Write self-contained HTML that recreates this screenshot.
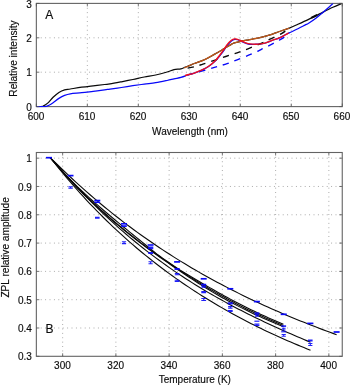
<!DOCTYPE html>
<html><head><meta charset="utf-8"><title>fig</title>
<style>
html,body{margin:0;padding:0;background:#fff;}
body{width:350px;height:385px;overflow:hidden;}
svg{display:block;will-change:transform;}
text{font-family:"Liberation Sans",sans-serif;font-size:10px;fill:#0c0c0c;stroke:#0c0c0c;stroke-width:0.15;}
.ax{stroke:#636363;stroke-width:1.1;fill:none;}
.grid{stroke:#939393;stroke-width:0.85;stroke-dasharray:0.9 3.5;fill:none;}
.tk{stroke:#555;stroke-width:0.8;fill:none;}
.c{fill:none;stroke-linejoin:round;stroke-linecap:butt;}
</style></head><body>
<svg width="350" height="385" viewBox="0 0 350 385">
<rect x="0" y="0" width="350" height="385" fill="#ffffff"/>

<g>
<line class="grid" x1="87.33" y1="3.40" x2="87.33" y2="106.60"/>
<line class="grid" x1="138.32" y1="3.40" x2="138.32" y2="106.60"/>
<line class="grid" x1="189.30" y1="3.40" x2="189.30" y2="106.60"/>
<line class="grid" x1="240.28" y1="3.40" x2="240.28" y2="106.60"/>
<line class="grid" x1="291.27" y1="3.40" x2="291.27" y2="106.60"/>
<line class="grid" x1="36.35" y1="72.20" x2="342.25" y2="72.20"/>
<line class="grid" x1="36.35" y1="37.80" x2="342.25" y2="37.80"/>
<clipPath id="ca"><rect x="36.35" y="2.90" width="305.90" height="104.40"/></clipPath>
<rect class="ax" x="36.35" y="3.40" width="305.90" height="103.20"/>
<g clip-path="url(#ca)">
<path class="c" d="M36.50 106.60 C37.25 106.58 39.93 106.57 41.00 106.50 C42.07 106.43 41.83 106.72 42.90 106.20 C43.97 105.68 45.70 104.88 47.40 103.40 C49.10 101.92 51.18 99.12 53.10 97.30 C55.02 95.48 56.98 93.73 58.90 92.50 C60.82 91.27 62.70 90.48 64.60 89.90 C66.50 89.32 67.45 89.45 70.30 89.00 C73.15 88.55 77.90 87.73 81.70 87.20 C85.50 86.67 89.28 86.25 93.10 85.80 C96.92 85.35 101.78 84.82 104.60 84.50 C107.42 84.18 107.20 84.35 110.00 83.90 C112.80 83.45 117.58 82.53 121.40 81.80 C125.22 81.07 129.08 80.30 132.90 79.50 C136.72 78.70 140.50 77.75 144.30 77.00 C148.10 76.25 151.90 75.83 155.70 75.00 C159.50 74.17 164.05 72.90 167.10 72.00 C170.15 71.10 171.70 70.13 174.00 69.60 C176.30 69.07 179.00 69.23 180.90 68.80 C182.80 68.37 183.88 67.57 185.40 67.00 C186.92 66.43 188.52 65.98 190.00 65.40 C191.48 64.82 191.92 64.43 194.30 63.50 C196.68 62.57 200.97 61.32 204.30 59.80 C207.63 58.28 211.20 56.13 214.30 54.40 C217.40 52.67 220.28 50.95 222.90 49.40 C225.52 47.85 228.10 46.18 230.00 45.10 C231.90 44.02 232.40 43.55 234.30 42.90 C236.20 42.25 239.02 41.72 241.40 41.20 C243.78 40.68 246.22 40.25 248.60 39.80 C250.98 39.35 253.32 39.00 255.70 38.50 C258.08 38.00 260.52 37.40 262.90 36.80 C265.28 36.20 267.75 35.60 270.00 34.90 C272.25 34.20 274.13 33.42 276.40 32.60 C278.67 31.78 281.45 30.75 283.60 30.00 C285.75 29.25 286.92 29.05 289.30 28.10 C291.68 27.15 294.68 25.75 297.90 24.30 C301.12 22.85 305.60 20.82 308.60 19.40 C311.60 17.98 313.48 17.02 315.90 15.80 C318.32 14.58 320.27 13.52 323.10 12.10 C325.93 10.68 329.85 8.72 332.90 7.30 C335.95 5.88 339.98 4.22 341.40 3.60" stroke="#0a0a0a" stroke-width="1.25"/>
<path class="c" d="M311.2 17.9 L317.2 15.0" stroke="#0a0a0a" stroke-width="2.1"/>
<path class="c" d="M36.50 106.60 C37.75 106.60 42.37 106.63 44.00 106.60 C45.63 106.57 45.47 106.62 46.30 106.40 C47.13 106.18 47.87 105.92 49.00 105.30 C50.13 104.68 51.45 103.85 53.10 102.70 C54.75 101.55 56.98 99.62 58.90 98.40 C60.82 97.18 62.70 96.17 64.60 95.40 C66.50 94.63 67.45 94.25 70.30 93.80 C73.15 93.35 77.90 93.12 81.70 92.70 C85.50 92.28 89.28 91.77 93.10 91.30 C96.92 90.83 101.78 90.27 104.60 89.90 C107.42 89.53 107.20 89.50 110.00 89.10 C112.80 88.70 117.58 88.07 121.40 87.50 C125.22 86.93 129.08 86.27 132.90 85.70 C136.72 85.13 140.50 84.60 144.30 84.10 C148.10 83.60 151.90 83.30 155.70 82.70 C159.50 82.10 164.05 81.13 167.10 80.50 C170.15 79.87 171.70 79.42 174.00 78.90 C176.30 78.38 179.00 77.90 180.90 77.40 C182.80 76.90 184.37 76.30 185.40 75.90 C186.43 75.50 185.62 75.47 187.10 75.00 C188.58 74.53 191.92 73.90 194.30 73.10 C196.68 72.30 199.02 71.32 201.40 70.20 C203.78 69.08 206.22 68.00 208.60 66.40 C210.98 64.80 213.32 63.03 215.70 60.60 C218.08 58.17 221.00 54.30 222.90 51.80 C224.80 49.30 225.68 47.40 227.10 45.60 C228.52 43.80 230.12 42.05 231.40 41.00 C232.68 39.95 233.70 39.50 234.80 39.30 C235.90 39.10 236.90 39.45 238.00 39.80 C239.10 40.15 240.12 40.83 241.40 41.40 C242.68 41.97 244.27 42.72 245.70 43.20 C247.13 43.68 248.33 44.13 250.00 44.30 C251.67 44.47 253.80 44.27 255.70 44.20 C257.60 44.13 259.73 44.10 261.40 43.90 C263.07 43.70 263.92 43.57 265.70 43.00 C267.48 42.43 269.83 41.35 272.10 40.50 C274.37 39.65 277.15 38.82 279.30 37.90 C281.45 36.98 283.43 35.80 285.00 35.00 C286.57 34.20 286.55 34.13 288.70 33.10 C290.85 32.07 295.18 30.13 297.90 28.80 C300.62 27.47 303.22 26.03 305.00 25.10 C306.78 24.17 306.78 24.35 308.60 23.20 C310.42 22.05 313.48 20.03 315.90 18.20 C318.32 16.37 321.08 13.90 323.10 12.20 C325.12 10.50 326.37 9.43 328.00 8.00 C329.63 6.57 332.08 4.33 332.90 3.60" stroke="#0808f8" stroke-width="1.25"/>
<path class="c" d="M184.50 68.60 C186.13 68.30 191.23 67.55 194.30 66.80 C197.37 66.05 199.57 65.18 202.90 64.10 C206.23 63.02 210.50 61.57 214.30 60.30 C218.10 59.03 221.90 57.75 225.70 56.50 C229.50 55.25 233.28 54.12 237.10 52.80 C240.92 51.48 244.30 50.32 248.60 48.60 C252.90 46.88 259.33 44.08 262.90 42.50 C266.47 40.92 266.90 40.58 270.00 39.10 C273.10 37.62 278.33 35.40 281.50 33.60 C284.67 31.80 287.75 29.18 289.00 28.30" stroke="#0a0a0a" stroke-width="1.35" stroke-dasharray="6.3 6" stroke-dashoffset="9.1"/>
<path class="c" d="M184.90 75.70 C186.93 75.13 193.15 73.40 197.10 72.30 C201.05 71.20 205.27 70.03 208.60 69.10 C211.93 68.17 214.02 67.62 217.10 66.70 C220.18 65.78 223.77 64.73 227.10 63.60 C230.43 62.47 233.52 61.30 237.10 59.90 C240.68 58.50 245.38 56.53 248.60 55.20 C251.82 53.87 254.27 52.88 256.40 51.90 C258.53 50.92 259.62 50.18 261.40 49.30 C263.18 48.42 265.18 47.55 267.10 46.60 C269.02 45.65 271.10 44.57 272.90 43.60 C274.70 42.63 276.12 41.80 277.90 40.80 C279.68 39.80 281.75 38.93 283.60 37.60 C285.45 36.27 288.10 33.60 289.00 32.80" stroke="#0808f8" stroke-width="1.35" stroke-dasharray="6.3 6" stroke-dashoffset="9.8"/>
<path class="c" d="M184.30 67.90 C185.25 67.48 188.33 66.13 190.00 65.40 C191.67 64.67 191.92 64.43 194.30 63.50 C196.68 62.57 200.97 61.32 204.30 59.80 C207.63 58.28 211.20 56.13 214.30 54.40 C217.40 52.67 220.28 50.95 222.90 49.40 C225.52 47.85 228.10 46.18 230.00 45.10 C231.90 44.02 232.40 43.55 234.30 42.90 C236.20 42.25 239.02 41.72 241.40 41.20 C243.78 40.68 246.22 40.25 248.60 39.80 C250.98 39.35 253.32 39.00 255.70 38.50 C258.08 38.00 260.52 37.40 262.90 36.80 C265.28 36.20 267.75 35.60 270.00 34.90 C272.25 34.20 274.13 33.42 276.40 32.60 C278.67 31.78 281.45 30.75 283.60 30.00 C285.75 29.25 288.35 28.42 289.30 28.10" stroke="#c0581a" stroke-width="1.3"/>
<path class="c" d="M184.90 75.60 C185.27 75.50 185.53 75.42 187.10 75.00 C188.67 74.58 191.92 73.90 194.30 73.10 C196.68 72.30 199.02 71.33 201.40 70.20 C203.78 69.07 206.22 67.97 208.60 66.30 C210.98 64.63 213.32 62.77 215.70 60.20 C218.08 57.63 221.00 53.50 222.90 50.90 C224.80 48.30 225.68 46.37 227.10 44.60 C228.52 42.83 230.17 41.25 231.40 40.30 C232.63 39.35 233.52 39.07 234.50 38.90 C235.48 38.73 236.15 38.95 237.30 39.30 C238.45 39.65 240.00 40.42 241.40 41.00 C242.80 41.58 244.27 42.32 245.70 42.80 C247.13 43.28 248.33 43.65 250.00 43.90 C251.67 44.15 253.80 44.30 255.70 44.30 C257.60 44.30 259.73 44.13 261.40 43.90 C263.07 43.67 263.92 43.48 265.70 42.90 C267.48 42.32 269.83 41.23 272.10 40.40 C274.37 39.57 277.15 38.80 279.30 37.90 C281.45 37.00 283.45 35.83 285.00 35.00 C286.55 34.17 288.00 33.25 288.60 32.90" stroke="#f0101c" stroke-width="1.4"/>
</g>
<line class="tk" x1="36.35" y1="106.60" x2="36.35" y2="103.60"/>
<line class="tk" x1="36.35" y1="3.40" x2="36.35" y2="6.40"/>
<text x="36.05" y="119.7" text-anchor="middle">600</text>
<line class="tk" x1="87.33" y1="106.60" x2="87.33" y2="103.60"/>
<line class="tk" x1="87.33" y1="3.40" x2="87.33" y2="6.40"/>
<text x="87.03" y="119.7" text-anchor="middle">610</text>
<line class="tk" x1="138.32" y1="106.60" x2="138.32" y2="103.60"/>
<line class="tk" x1="138.32" y1="3.40" x2="138.32" y2="6.40"/>
<text x="138.02" y="119.7" text-anchor="middle">620</text>
<line class="tk" x1="189.30" y1="106.60" x2="189.30" y2="103.60"/>
<line class="tk" x1="189.30" y1="3.40" x2="189.30" y2="6.40"/>
<text x="189.00" y="119.7" text-anchor="middle">630</text>
<line class="tk" x1="240.28" y1="106.60" x2="240.28" y2="103.60"/>
<line class="tk" x1="240.28" y1="3.40" x2="240.28" y2="6.40"/>
<text x="239.98" y="119.7" text-anchor="middle">640</text>
<line class="tk" x1="291.27" y1="106.60" x2="291.27" y2="103.60"/>
<line class="tk" x1="291.27" y1="3.40" x2="291.27" y2="6.40"/>
<text x="290.97" y="119.7" text-anchor="middle">650</text>
<line class="tk" x1="342.25" y1="106.60" x2="342.25" y2="103.60"/>
<line class="tk" x1="342.25" y1="3.40" x2="342.25" y2="6.40"/>
<text x="341.95" y="119.7" text-anchor="middle">660</text>
<line class="tk" x1="36.35" y1="106.60" x2="39.35" y2="106.60"/>
<line class="tk" x1="342.25" y1="106.60" x2="339.25" y2="106.60"/>
<text x="31.8" y="110.70" text-anchor="end">0</text>
<line class="tk" x1="36.35" y1="72.20" x2="39.35" y2="72.20"/>
<line class="tk" x1="342.25" y1="72.20" x2="339.25" y2="72.20"/>
<text x="31.8" y="76.30" text-anchor="end">1</text>
<line class="tk" x1="36.35" y1="37.80" x2="39.35" y2="37.80"/>
<line class="tk" x1="342.25" y1="37.80" x2="339.25" y2="37.80"/>
<text x="31.8" y="41.90" text-anchor="end">2</text>
<line class="tk" x1="36.35" y1="3.40" x2="39.35" y2="3.40"/>
<line class="tk" x1="342.25" y1="3.40" x2="339.25" y2="3.40"/>
<text x="31.8" y="7.50" text-anchor="end">3</text>
<text x="190.0" y="135.4" text-anchor="middle">Wavelength (nm)</text>
<text transform="translate(16.8 58.5) rotate(-90)" text-anchor="middle" style="font-size:10.1px">Relative intensity</text>
<text x="45.2" y="19.2" style="font-size:12px">A</text>
</g>
<g>
<line class="grid" x1="62.65" y1="152.50" x2="62.65" y2="356.30"/>
<line class="grid" x1="115.89" y1="152.50" x2="115.89" y2="356.30"/>
<line class="grid" x1="169.13" y1="152.50" x2="169.13" y2="356.30"/>
<line class="grid" x1="222.37" y1="152.50" x2="222.37" y2="356.30"/>
<line class="grid" x1="275.61" y1="152.50" x2="275.61" y2="356.30"/>
<line class="grid" x1="328.85" y1="152.50" x2="328.85" y2="356.30"/>
<line class="grid" x1="36.35" y1="327.99" x2="342.25" y2="327.99"/>
<line class="grid" x1="36.35" y1="299.69" x2="342.25" y2="299.69"/>
<line class="grid" x1="36.35" y1="271.38" x2="342.25" y2="271.38"/>
<line class="grid" x1="36.35" y1="243.08" x2="342.25" y2="243.08"/>
<line class="grid" x1="36.35" y1="214.77" x2="342.25" y2="214.77"/>
<line class="grid" x1="36.35" y1="186.47" x2="342.25" y2="186.47"/>
<line class="grid" x1="36.35" y1="158.16" x2="342.25" y2="158.16"/>
<path class="c" d="M50.50 157.80 L54.12 161.41 L57.74 164.97 L61.36 168.49 L64.99 171.96 L68.61 175.39 L72.23 178.77 L75.85 182.10 L79.47 185.39 L83.09 188.64 L86.72 191.84 L90.34 195.00 L93.96 198.12 L97.58 201.19 L101.20 204.22 L104.82 207.21 L108.44 210.16 L112.07 213.07 L115.69 215.95 L119.31 218.78 L122.93 221.57 L126.55 224.32 L130.17 227.04 L133.79 229.72 L137.42 232.36 L141.04 234.96 L144.66 237.53 L148.28 240.07 L151.90 242.57 L155.52 245.03 L159.15 247.46 L162.77 249.86 L166.39 252.23 L170.01 254.56 L173.63 256.86 L177.25 259.13 L180.87 261.37 L184.50 263.58 L188.12 265.76 L191.74 267.91 L195.36 270.03 L198.98 272.12 L202.60 274.18 L206.23 276.22 L209.85 278.23 L213.47 280.21 L217.09 282.17 L220.71 284.10 L224.33 286.00 L227.95 287.88 L231.58 289.74 L235.20 291.57 L238.82 293.38 L242.44 295.17 L246.06 296.93 L249.68 298.67 L253.31 300.39 L256.93 302.08 L260.55 303.76 L264.17 305.41 L267.79 307.05 L271.41 308.66 L275.03 310.26 L278.66 311.83 L282.28 313.39 L285.90 314.93 L289.52 316.45 L293.14 317.95 L296.76 319.44 L300.38 320.90 L304.01 322.35 L307.63 323.79 L311.25 325.21 L314.87 326.61 L318.49 328.00 L322.11 329.37 L325.74 330.72 L329.36 332.07 L332.98 333.39 L336.60 334.71" stroke="#0a0a0a" stroke-width="1.1"/>
<path class="c" d="M50.50 157.80 L53.45 161.25 L56.40 164.62 L59.34 167.92 L62.29 171.14 L65.24 174.30 L68.19 177.39 L71.14 180.43 L74.08 183.40 L77.03 186.32 L79.98 189.18 L82.93 191.98 L85.88 194.70 L88.83 197.37 L91.77 199.99 L94.72 202.58 L97.67 205.15 L100.62 207.72 L103.57 210.28 L106.51 212.79 L109.46 215.29 L112.41 217.76 L115.36 220.21 L118.31 222.65 L121.25 225.09 L124.20 227.52 L127.15 229.94 L130.10 232.35 L133.05 234.75 L135.99 237.13 L138.94 239.49 L141.89 241.85 L144.84 244.26 L147.79 246.69 L150.74 249.12 L153.68 251.51 L156.63 253.82 L159.58 256.03 L162.53 258.14 L165.48 260.23 L168.42 262.28 L171.37 264.31 L174.32 266.31 L177.27 268.26 L180.22 270.12 L183.16 271.92 L186.11 273.69 L189.06 275.47 L192.01 277.26 L194.96 279.04 L197.91 280.79 L200.85 282.53 L203.80 284.24 L206.75 285.95 L209.70 287.64 L212.65 289.32 L215.59 290.99 L218.54 292.65 L221.49 294.30 L224.44 295.93 L227.39 297.55 L230.33 299.14 L233.28 300.71 L236.23 302.26 L239.18 303.79 L242.13 305.29 L245.07 306.78 L248.02 308.24 L250.97 309.68 L253.92 311.10 L256.87 312.51 L259.82 313.89 L262.76 315.26 L265.71 316.61 L268.66 317.94 L271.61 319.24 L274.56 320.53 L277.50 321.79 L280.45 323.04 L283.40 324.26" stroke="#0a0a0a" stroke-width="1.1"/>
<path class="c" d="M50.50 157.80 L53.45 161.29 L56.40 164.72 L59.34 168.08 L62.29 171.38 L65.24 174.62 L68.19 177.80 L71.14 180.92 L74.08 183.99 L77.03 187.01 L79.98 189.98 L82.93 192.91 L85.88 195.78 L88.83 198.62 L91.77 201.41 L94.72 204.16 L97.67 206.87 L100.62 209.54 L103.57 212.18 L106.51 214.78 L109.46 217.34 L112.41 219.88 L115.36 222.38 L118.31 224.85 L121.25 227.29 L124.20 229.69 L127.15 232.07 L130.10 234.43 L133.05 236.75 L135.99 239.05 L138.94 241.32 L141.89 243.57 L144.84 245.79 L147.79 247.99 L150.74 250.16 L153.68 252.31 L156.63 254.43 L159.58 256.54 L162.53 258.61 L165.48 260.67 L168.42 262.71 L171.37 264.72 L174.32 266.71 L177.27 268.68 L180.22 270.63 L183.16 272.56 L186.11 274.46 L189.06 276.35 L192.01 278.21 L194.96 280.05 L197.91 281.88 L200.85 283.68 L203.80 285.46 L206.75 287.22 L209.70 288.96 L212.65 290.67 L215.59 292.37 L218.54 294.05 L221.49 295.70 L224.44 297.33 L227.39 298.95 L230.33 300.54 L233.28 302.11 L236.23 303.66 L239.18 305.19 L242.13 306.69 L245.07 308.18 L248.02 309.64 L250.97 311.08 L253.92 312.50 L256.87 313.90 L259.82 315.27 L262.76 316.62 L265.71 317.95 L268.66 319.26 L271.61 320.54 L274.56 321.81 L277.50 323.05 L280.45 324.26 L283.40 325.46" stroke="#0a0a0a" stroke-width="1.1"/>
<path class="c" d="M50.50 157.80 L53.45 161.34 L56.40 164.82 L59.34 168.23 L62.29 171.57 L65.24 174.85 L68.19 178.07 L71.14 181.23 L74.08 184.34 L77.03 187.39 L79.98 190.38 L82.93 193.33 L85.88 196.23 L88.83 199.08 L91.77 201.89 L94.72 204.66 L97.67 207.39 L100.62 210.08 L103.57 212.73 L106.51 215.35 L109.46 217.93 L112.41 220.47 L115.36 222.97 L118.31 225.45 L121.25 227.89 L124.20 230.29 L127.15 232.67 L130.10 235.03 L133.05 237.35 L135.99 239.65 L138.94 241.92 L141.89 244.16 L144.84 246.36 L147.79 248.52 L150.74 250.65 L153.68 252.75 L156.63 254.85 L159.58 256.94 L162.53 259.02 L165.48 261.10 L168.42 263.17 L171.37 265.23 L174.32 267.28 L177.27 269.31 L180.22 271.32 L183.16 273.32 L186.11 275.29 L189.06 277.23 L192.01 279.15 L194.96 281.06 L197.91 282.96 L200.85 284.84 L203.80 286.69 L206.75 288.53 L209.70 290.33 L212.65 292.11 L215.59 293.84 L218.54 295.54 L221.49 297.20 L224.44 298.83 L227.39 300.44 L230.33 302.02 L233.28 303.58 L236.23 305.12 L239.18 306.63 L242.13 308.13 L245.07 309.60 L248.02 311.05 L250.97 312.48 L253.92 313.88 L256.87 315.26 L259.82 316.62 L262.76 317.96 L265.71 319.27 L268.66 320.56 L271.61 321.83 L274.56 323.07 L277.50 324.29 L280.45 325.48 L283.40 326.66" stroke="#0a0a0a" stroke-width="1.1"/>
<path class="c" d="M50.50 157.80 L53.79 161.62 L57.08 165.40 L60.37 169.14 L63.66 172.83 L66.96 176.47 L70.25 180.07 L73.54 183.63 L76.83 187.13 L80.12 190.60 L83.41 194.01 L86.70 197.38 L89.99 200.70 L93.28 203.98 L96.58 207.21 L99.87 210.40 L103.16 213.54 L106.45 216.63 L109.74 219.68 L113.03 222.68 L116.32 225.64 L119.61 228.56 L122.91 231.43 L126.20 234.26 L129.49 237.05 L132.78 239.79 L136.07 242.49 L139.36 245.15 L142.65 247.77 L145.94 250.36 L149.23 252.90 L152.53 255.40 L155.82 257.86 L159.11 260.29 L162.40 262.68 L165.69 265.03 L168.98 267.35 L172.27 269.63 L175.56 271.88 L178.85 274.09 L182.15 276.27 L185.44 278.42 L188.73 280.53 L192.02 282.62 L195.31 284.67 L198.60 286.70 L201.89 288.69 L205.18 290.66 L208.47 292.60 L211.77 294.51 L215.06 296.39 L218.35 298.25 L221.64 300.09 L224.93 301.89 L228.22 303.68 L231.51 305.44 L234.80 307.18 L238.09 308.90 L241.39 310.59 L244.68 312.27 L247.97 313.92 L251.26 315.56 L254.55 317.17 L257.84 318.77 L261.13 320.35 L264.42 321.91 L267.72 323.45 L271.01 324.98 L274.30 326.50 L277.59 327.99 L280.88 329.48 L284.17 330.95 L287.46 332.40 L290.75 333.84 L294.04 335.27 L297.34 336.69 L300.63 338.10 L303.92 339.49 L307.21 340.87 L310.50 342.25" stroke="#0a0a0a" stroke-width="1.1"/>
<path class="c" d="M50.50 157.80 L53.79 161.99 L57.08 166.10 L60.37 170.15 L63.66 174.14 L66.96 178.06 L70.25 181.91 L73.54 185.71 L76.83 189.44 L80.12 193.11 L83.41 196.73 L86.70 200.29 L89.99 203.79 L93.28 207.24 L96.58 210.63 L99.87 213.97 L103.16 217.26 L106.45 220.49 L109.74 223.68 L113.03 226.81 L116.32 229.90 L119.61 232.94 L122.91 235.94 L126.20 238.88 L129.49 241.79 L132.78 244.64 L136.07 247.46 L139.36 250.23 L142.65 252.96 L145.94 255.65 L149.23 258.30 L152.53 260.91 L155.82 263.48 L159.11 266.01 L162.40 268.50 L165.69 270.96 L168.98 273.38 L172.27 275.76 L175.56 278.11 L178.85 280.42 L182.15 282.70 L185.44 284.95 L188.73 287.16 L192.02 289.35 L195.31 291.50 L198.60 293.61 L201.89 295.70 L205.18 297.76 L208.47 299.79 L211.77 301.79 L215.06 303.76 L218.35 305.70 L221.64 307.61 L224.93 309.50 L228.22 311.36 L231.51 313.19 L234.80 315.00 L238.09 316.78 L241.39 318.53 L244.68 320.26 L247.97 321.97 L251.26 323.65 L254.55 325.31 L257.84 326.95 L261.13 328.56 L264.42 330.15 L267.72 331.72 L271.01 333.26 L274.30 334.78 L277.59 336.29 L280.88 337.77 L284.17 339.23 L287.46 340.67 L290.75 342.09 L294.04 343.49 L297.34 344.87 L300.63 346.24 L303.92 347.58 L307.21 348.91 L310.50 350.21" stroke="#0a0a0a" stroke-width="1.1"/>
<line x1="46.00" y1="157.70" x2="52.00" y2="157.70" stroke="#0808f8" stroke-width="1.70"/>
<line x1="67.70" y1="175.60" x2="73.50" y2="175.60" stroke="#0808f8" stroke-width="1.70"/>
<path d="M68.40 186.70 H72.80 M68.40 188.30 H72.80 M70.60 186.70 V188.30" stroke="#0808f8" stroke-opacity="0.9" stroke-width="1.05" fill="none"/>
<line x1="94.30" y1="200.50" x2="100.30" y2="200.50" stroke="#0808f8" stroke-width="1.60"/>
<line x1="94.50" y1="202.30" x2="100.10" y2="202.30" stroke="#0808f8" stroke-width="1.50"/>
<path d="M95.00 217.20 H99.60 M95.00 218.20 H99.60 M97.30 217.20 V218.20" stroke="#0808f8" stroke-opacity="0.9" stroke-width="1.10" fill="none"/>
<line x1="121.00" y1="223.80" x2="127.00" y2="223.80" stroke="#0808f8" stroke-width="1.60"/>
<line x1="121.20" y1="226.10" x2="126.80" y2="226.10" stroke="#0808f8" stroke-width="1.70"/>
<path d="M121.90 241.80 H126.10 M121.90 243.60 H126.10 M124.00 241.80 V243.60" stroke="#0808f8" stroke-opacity="0.9" stroke-width="1.05" fill="none"/>
<line x1="147.60" y1="245.00" x2="153.60" y2="245.00" stroke="#0808f8" stroke-width="1.60"/>
<path d="M147.90 247.30 H153.30 M147.90 248.50 H153.30 M150.60 247.30 V248.50" stroke="#0808f8" stroke-opacity="0.9" stroke-width="1.40" fill="none"/>
<path d="M148.20 252.60 H153.00 M148.20 253.40 H153.00 M150.60 252.60 V253.40" stroke="#0808f8" stroke-opacity="0.9" stroke-width="1.05" fill="none"/>
<path d="M148.50 261.80 H152.70 M148.50 263.80 H152.70 M150.60 261.80 V263.80" stroke="#0808f8" stroke-opacity="0.9" stroke-width="1.05" fill="none"/>
<line x1="174.10" y1="261.90" x2="180.10" y2="261.90" stroke="#0808f8" stroke-width="1.70"/>
<path d="M174.50 268.60 H179.70 M174.50 269.40 H179.70 M177.10 268.60 V269.40" stroke="#0808f8" stroke-opacity="0.9" stroke-width="1.40" fill="none"/>
<path d="M174.80 273.40 H179.40 M174.80 274.80 H179.40 M177.10 273.40 V274.80" stroke="#0808f8" stroke-opacity="0.9" stroke-width="1.05" fill="none"/>
<path d="M174.70 280.20 H179.50 M174.70 281.40 H179.50 M177.10 280.20 V281.40" stroke="#0808f8" stroke-opacity="0.9" stroke-width="1.05" fill="none"/>
<line x1="200.70" y1="278.80" x2="206.70" y2="278.80" stroke="#0808f8" stroke-width="1.70"/>
<line x1="201.20" y1="284.50" x2="206.20" y2="284.50" stroke="#0808f8" stroke-width="1.50"/>
<path d="M201.50 286.10 H205.90 M201.50 287.10 H205.90 M203.70 286.10 V287.10" stroke="#0808f8" stroke-opacity="0.9" stroke-width="1.05" fill="none"/>
<path d="M201.30 291.60 H206.10 M201.30 292.60 H206.10 M203.70 291.60 V292.60" stroke="#0808f8" stroke-opacity="0.9" stroke-width="1.05" fill="none"/>
<path d="M201.30 298.40 H206.10 M201.30 300.40 H206.10 M203.70 298.40 V300.40" stroke="#0808f8" stroke-opacity="0.9" stroke-width="1.05" fill="none"/>
<line x1="227.30" y1="288.80" x2="233.30" y2="288.80" stroke="#0808f8" stroke-width="1.70"/>
<path d="M227.80 303.00 H232.80 M227.80 303.80 H232.80 M230.30 303.00 V303.80" stroke="#0808f8" stroke-opacity="0.9" stroke-width="1.30" fill="none"/>
<path d="M228.10 306.60 H232.50 M228.10 308.20 H232.50 M230.30 306.60 V308.20" stroke="#0808f8" stroke-opacity="0.9" stroke-width="1.05" fill="none"/>
<path d="M227.90 310.40 H232.70 M227.90 311.40 H232.70 M230.30 310.40 V311.40" stroke="#0808f8" stroke-opacity="0.9" stroke-width="1.05" fill="none"/>
<line x1="253.90" y1="301.60" x2="259.90" y2="301.60" stroke="#0808f8" stroke-width="1.70"/>
<line x1="254.40" y1="313.10" x2="259.40" y2="313.10" stroke="#0808f8" stroke-width="1.40"/>
<path d="M254.90 314.60 H258.90 M254.90 316.20 H258.90 M256.90 314.60 V316.20" stroke="#0808f8" stroke-opacity="0.9" stroke-width="1.05" fill="none"/>
<line x1="254.40" y1="321.20" x2="259.40" y2="321.20" stroke="#0808f8" stroke-width="1.10"/>
<path d="M254.40 324.10 H259.40 M254.40 325.50 H259.40 M256.90 324.10 V325.50" stroke="#0808f8" stroke-opacity="0.9" stroke-width="1.10" fill="none"/>
<line x1="280.70" y1="314.30" x2="286.70" y2="314.30" stroke="#0808f8" stroke-width="1.70"/>
<line x1="281.30" y1="326.10" x2="286.10" y2="326.10" stroke="#0808f8" stroke-width="1.50"/>
<path d="M281.80 328.20 H285.60 M281.80 330.00 H285.60 M283.70 328.20 V330.00" stroke="#0808f8" stroke-opacity="0.9" stroke-width="1.05" fill="none"/>
<line x1="281.20" y1="331.80" x2="286.20" y2="331.80" stroke="#0808f8" stroke-width="1.05"/>
<path d="M281.60 334.40 H285.80 M281.60 336.20 H285.80 M283.70 334.40 V336.20" stroke="#0808f8" stroke-opacity="0.9" stroke-width="1.05" fill="none"/>
<line x1="307.20" y1="323.40" x2="313.40" y2="323.40" stroke="#0808f8" stroke-width="1.70"/>
<path d="M308.00 339.95 H312.60 M308.00 341.05 H312.60 M310.30 339.95 V341.05" stroke="#0808f8" stroke-opacity="0.9" stroke-width="1.05" fill="none"/>
<path d="M308.20 343.50 H312.40 M308.20 345.50 H312.40 M310.30 343.50 V345.50" stroke="#0808f8" stroke-opacity="0.9" stroke-width="1.05" fill="none"/>
<line x1="333.60" y1="332.00" x2="339.60" y2="332.00" stroke="#0808f8" stroke-width="1.70"/>
<rect class="ax" x="36.35" y="152.50" width="305.90" height="203.80"/>
<line class="tk" x1="62.65" y1="356.30" x2="62.65" y2="353.30"/>
<line class="tk" x1="62.65" y1="152.50" x2="62.65" y2="155.50"/>
<text x="62.45" y="368.7" text-anchor="middle">300</text>
<line class="tk" x1="115.89" y1="356.30" x2="115.89" y2="353.30"/>
<line class="tk" x1="115.89" y1="152.50" x2="115.89" y2="155.50"/>
<text x="115.69" y="368.7" text-anchor="middle">320</text>
<line class="tk" x1="169.13" y1="356.30" x2="169.13" y2="353.30"/>
<line class="tk" x1="169.13" y1="152.50" x2="169.13" y2="155.50"/>
<text x="168.93" y="368.7" text-anchor="middle">340</text>
<line class="tk" x1="222.37" y1="356.30" x2="222.37" y2="353.30"/>
<line class="tk" x1="222.37" y1="152.50" x2="222.37" y2="155.50"/>
<text x="222.17" y="368.7" text-anchor="middle">360</text>
<line class="tk" x1="275.61" y1="356.30" x2="275.61" y2="353.30"/>
<line class="tk" x1="275.61" y1="152.50" x2="275.61" y2="155.50"/>
<text x="275.41" y="368.7" text-anchor="middle">380</text>
<line class="tk" x1="328.85" y1="356.30" x2="328.85" y2="353.30"/>
<line class="tk" x1="328.85" y1="152.50" x2="328.85" y2="155.50"/>
<text x="328.65" y="368.7" text-anchor="middle">400</text>
<line class="tk" x1="36.35" y1="356.30" x2="39.35" y2="356.30"/>
<line class="tk" x1="342.25" y1="356.30" x2="339.25" y2="356.30"/>
<text x="31.8" y="360.40" text-anchor="end">0.3</text>
<line class="tk" x1="36.35" y1="327.99" x2="39.35" y2="327.99"/>
<line class="tk" x1="342.25" y1="327.99" x2="339.25" y2="327.99"/>
<text x="31.8" y="332.09" text-anchor="end">0.4</text>
<line class="tk" x1="36.35" y1="299.69" x2="39.35" y2="299.69"/>
<line class="tk" x1="342.25" y1="299.69" x2="339.25" y2="299.69"/>
<text x="31.8" y="303.79" text-anchor="end">0.5</text>
<line class="tk" x1="36.35" y1="271.38" x2="39.35" y2="271.38"/>
<line class="tk" x1="342.25" y1="271.38" x2="339.25" y2="271.38"/>
<text x="31.8" y="275.48" text-anchor="end">0.6</text>
<line class="tk" x1="36.35" y1="243.08" x2="39.35" y2="243.08"/>
<line class="tk" x1="342.25" y1="243.08" x2="339.25" y2="243.08"/>
<text x="31.8" y="247.18" text-anchor="end">0.7</text>
<line class="tk" x1="36.35" y1="214.77" x2="39.35" y2="214.77"/>
<line class="tk" x1="342.25" y1="214.77" x2="339.25" y2="214.77"/>
<text x="31.8" y="218.87" text-anchor="end">0.8</text>
<line class="tk" x1="36.35" y1="186.47" x2="39.35" y2="186.47"/>
<line class="tk" x1="342.25" y1="186.47" x2="339.25" y2="186.47"/>
<text x="31.8" y="190.57" text-anchor="end">0.9</text>
<line class="tk" x1="36.35" y1="158.16" x2="39.35" y2="158.16"/>
<line class="tk" x1="342.25" y1="158.16" x2="339.25" y2="158.16"/>
<text x="31.8" y="162.26" text-anchor="end">1</text>
<text x="194.8" y="382.7" text-anchor="middle">Temperature (K)</text>
<text transform="translate(8.5 247.4) rotate(-90)" text-anchor="middle" style="font-size:10.15px">ZPL relative amplitude</text>
<text x="45.6" y="333.1" style="font-size:12px">B</text>
</g>
</svg></body></html>
